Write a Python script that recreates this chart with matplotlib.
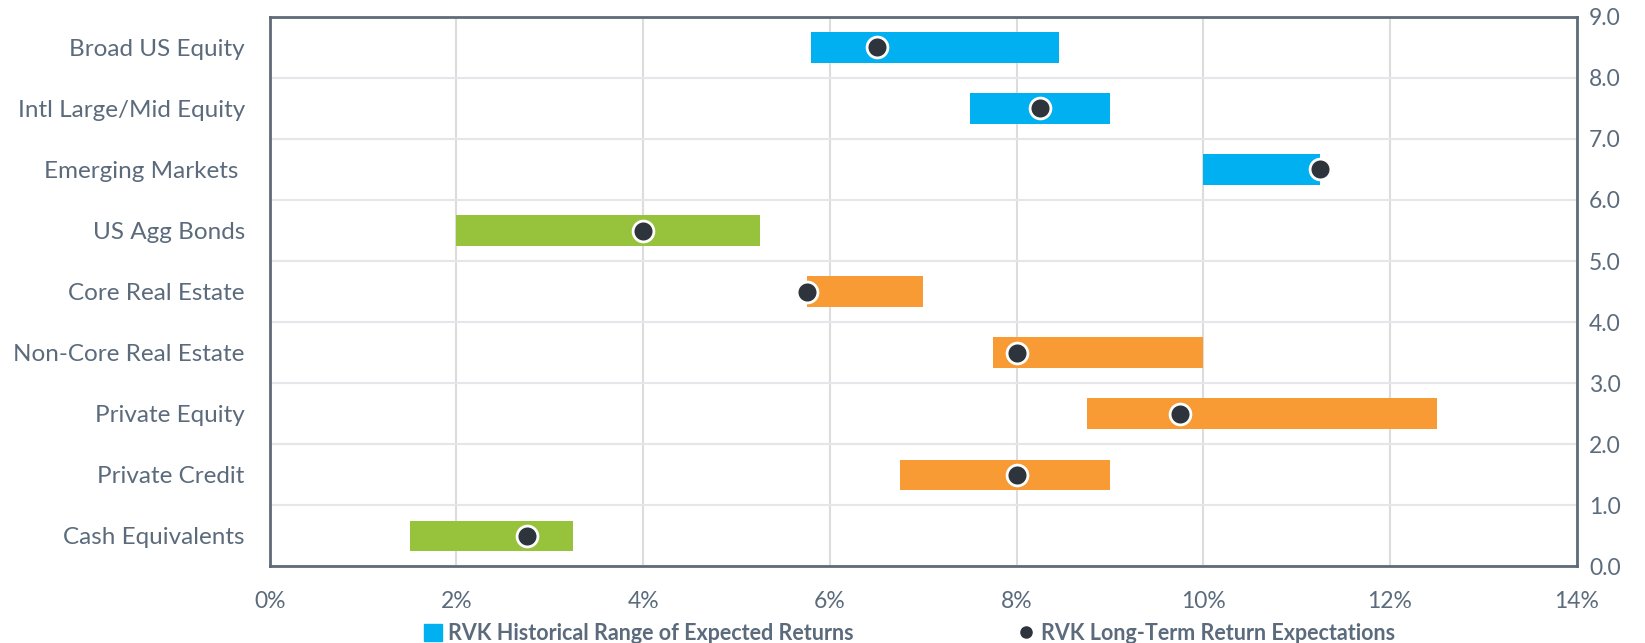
import matplotlib
matplotlib.use("Agg")
import matplotlib.pyplot as plt
from matplotlib.lines import Line2D
from matplotlib.patches import Patch
from matplotlib.ticker import FuncFormatter

plt.rcParams['font.family'] = ['Lato', 'DejaVu Sans']

# data (percent)
categories = ['Cash Equivalents', 'Private Credit', 'Private Equity', 'Non-Core Real Estate',
              'Core Real Estate', 'US Agg Bonds', 'Emerging Markets ', 'Intl Large/Mid Equity',
              'Broad US Equity']
range_low = [1.5, 6.75, 8.75, 7.75, 5.75, 2.0, 10.0, 7.5, 5.8]
range_high = [3.25, 9.0, 12.5, 10.0, 7.0, 5.25, 11.25, 9.0, 8.45]
long_term = [2.75, 8.0, 9.75, 8.0, 5.75, 4.0, 11.25, 8.25, 6.5]
groups = ['green', 'orange', 'orange', 'orange', 'orange', 'green', 'blue', 'blue', 'blue']
x_ticks = [0, 2, 4, 6, 8, 10, 12, 14]
y2_ticks = [0, 1, 2, 3, 4, 5, 6, 7, 8, 9]

palette = {'blue': '#00B0F0', 'green': '#97C33C', 'orange': '#F89B35'}
text_col = '#5B6B7C'
spine_col = '#5F6B77'
dot_col = '#2E343C'

fig = plt.figure(figsize=(16.45, 6.43), dpi=100)
ax = fig.add_axes([0.164, 0.119, 0.7945, 0.855])

ypos = [i + 0.5 for i in range(len(categories))]
widths = [h - l for l, h in zip(range_low, range_high)]
ax.barh(ypos, widths, left=range_low, height=0.5,
        color=[palette[g] for g in groups], zorder=2)
ax.plot(long_term, ypos, 'o', ms=15, mfc=dot_col, mec='white', mew=2,
        linestyle='none', zorder=3)

ax.set_xlim(0, 14)
ax.set_ylim(0, 9)
ax.set_xticks(x_ticks)
ax.xaxis.set_major_formatter(FuncFormatter(lambda v, p: f'{v:.0f}%'))
ax.set_yticks(ypos)
ax.set_yticklabels(categories)
ax.set_yticks(y2_ticks, minor=True)
ax.grid(True, which='major', axis='x', color='#DCDCDC', lw=1.5, zorder=0)
ax.grid(True, which='minor', axis='y', color='#E4E6E9', lw=1.5, zorder=0)
ax.tick_params(axis='y', which='both', length=0, pad=18, labelsize=17.5, labelcolor=text_col)
ax.tick_params(axis='x', length=0, pad=18, labelsize=16.5, labelcolor=text_col)
for s in ax.spines.values():
    s.set_color(spine_col)
    s.set_linewidth(2)

ax2 = ax.twinx()
ax2.set_ylim(0, 9)
ax2.set_yticks(y2_ticks)
ax2.set_yticklabels([f'{v:.1f}' for v in y2_ticks])
ax2.tick_params(axis='y', length=0, pad=9, labelsize=16.5, labelcolor=text_col)
for s in ax2.spines.values():
    s.set_visible(False)

handles = [Patch(color=palette['blue']),
           Line2D([], [], marker='o', color=dot_col, ms=8, linestyle='none')]
labels = ['RVK Historical Range of Expected Returns', 'RVK Long-Term Return Expectations']
leg = fig.legend(handles, labels, loc='center', bbox_to_anchor=(0.553, 0.015), ncol=2,
                 frameon=False, handlelength=0.8, handleheight=0.8, handletextpad=0.3,
                 columnspacing=7.6, prop={'weight': 'bold', 'size': 15.5})
for t in leg.get_texts():
    t.set_color(text_col)

fig.savefig('out.png', dpi=100)
